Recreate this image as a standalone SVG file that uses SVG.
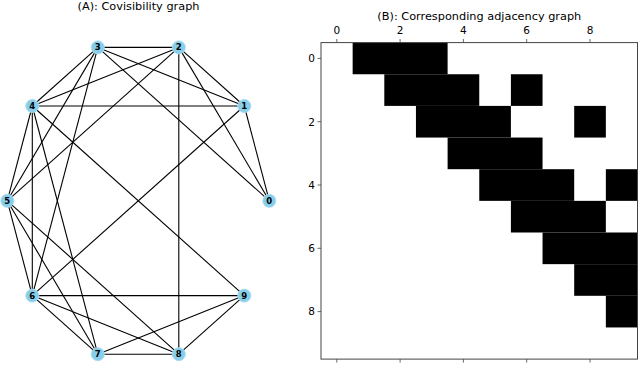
<svg xmlns="http://www.w3.org/2000/svg" width="640" height="365" viewBox="0 0 640 365">
<style>
.tl{font-family:"DejaVu Sans",sans-serif;font-size:10.5px;fill:#000;text-anchor:middle}
.ti{font-family:"DejaVu Sans",sans-serif;font-size:11.3px;fill:#000;text-anchor:middle}
.tr{font-family:"DejaVu Sans",sans-serif;font-size:10.5px;fill:#000;text-anchor:end}
.e line{stroke:#000;stroke-width:1.1}
.n circle{fill:#87CEEB;stroke:#a9dcf0;stroke-width:1}
.n text{font-family:"DejaVu Sans",sans-serif;font-size:8.5px;font-weight:bold;fill:#000;text-anchor:middle}
.tk{stroke:#444;stroke-width:0.8}
</style>
<rect width="640" height="365" fill="#fff"/>
<text class="ti" x="138.5" y="9.5">(A): Covisibility graph</text>
<g id="edges" class="e">
<line x1="269.3" y1="200.8" x2="244.3" y2="106.0"/>
<line x1="269.3" y1="200.8" x2="178.8" y2="47.4"/>
<line x1="269.3" y1="200.8" x2="97.8" y2="47.4"/>
<line x1="244.3" y1="106.0" x2="178.8" y2="47.4"/>
<line x1="244.3" y1="106.0" x2="97.8" y2="47.4"/>
<line x1="244.3" y1="106.0" x2="32.3" y2="106.0"/>
<line x1="244.3" y1="106.0" x2="32.3" y2="295.6"/>
<line x1="178.8" y1="47.4" x2="97.8" y2="47.4"/>
<line x1="178.8" y1="47.4" x2="32.3" y2="106.0"/>
<line x1="178.8" y1="47.4" x2="7.3" y2="200.8"/>
<line x1="178.8" y1="47.4" x2="178.8" y2="354.2"/>
<line x1="97.8" y1="47.4" x2="32.3" y2="106.0"/>
<line x1="97.8" y1="47.4" x2="7.3" y2="200.8"/>
<line x1="97.8" y1="47.4" x2="32.3" y2="295.6"/>
<line x1="32.3" y1="106.0" x2="7.3" y2="200.8"/>
<line x1="32.3" y1="106.0" x2="32.3" y2="295.6"/>
<line x1="32.3" y1="106.0" x2="97.8" y2="354.2"/>
<line x1="32.3" y1="106.0" x2="244.3" y2="295.6"/>
<line x1="7.3" y1="200.8" x2="32.3" y2="295.6"/>
<line x1="7.3" y1="200.8" x2="97.8" y2="354.2"/>
<line x1="7.3" y1="200.8" x2="178.8" y2="354.2"/>
<line x1="32.3" y1="295.6" x2="97.8" y2="354.2"/>
<line x1="32.3" y1="295.6" x2="178.8" y2="354.2"/>
<line x1="32.3" y1="295.6" x2="244.3" y2="295.6"/>
<line x1="97.8" y1="354.2" x2="178.8" y2="354.2"/>
<line x1="97.8" y1="354.2" x2="244.3" y2="295.6"/>
<line x1="178.8" y1="354.2" x2="244.3" y2="295.6"/>
</g>
<g id="node0" class="n"><circle cx="269.3" cy="200.8" r="6.5"/><text x="269.3" y="203.8">0</text></g>
<g id="node1" class="n"><circle cx="244.3" cy="106.0" r="6.5"/><text x="244.3" y="109.0">1</text></g>
<g id="node2" class="n"><circle cx="178.8" cy="47.4" r="6.5"/><text x="178.8" y="50.4">2</text></g>
<g id="node3" class="n"><circle cx="97.8" cy="47.4" r="6.5"/><text x="97.8" y="50.4">3</text></g>
<g id="node4" class="n"><circle cx="32.3" cy="106.0" r="6.5"/><text x="32.3" y="109.0">4</text></g>
<g id="node5" class="n"><circle cx="7.3" cy="200.8" r="6.5"/><text x="7.3" y="203.8">5</text></g>
<g id="node6" class="n"><circle cx="32.3" cy="295.6" r="6.5"/><text x="32.3" y="298.6">6</text></g>
<g id="node7" class="n"><circle cx="97.8" cy="354.2" r="6.5"/><text x="97.8" y="357.2">7</text></g>
<g id="node8" class="n"><circle cx="178.8" cy="354.2" r="6.5"/><text x="178.8" y="357.2">8</text></g>
<g id="node9" class="n"><circle cx="244.3" cy="295.6" r="6.5"/><text x="244.3" y="298.6">9</text></g>
<g id="matrix">
<text class="ti" x="479.3" y="19.5">(B): Corresponding adjacency graph</text>
<g transform="translate(321,42.6) scale(31.65)" fill="#000">
<rect x="1" y="0" width="3" height="1"/>
<rect x="2" y="1" width="3" height="1"/>
<rect x="6" y="1" width="1" height="1"/>
<rect x="3" y="2" width="3" height="1"/>
<rect x="8" y="2" width="1" height="1"/>
<rect x="4" y="3" width="3" height="1"/>
<rect x="5" y="4" width="3" height="1"/>
<rect x="9" y="4" width="1" height="1"/>
<rect x="6" y="5" width="3" height="1"/>
<rect x="7" y="6" width="3" height="1"/>
<rect x="8" y="7" width="2" height="1"/>
<rect x="9" y="8" width="1" height="1"/>
</g>
<rect x="321" y="42.6" width="316.5" height="316.5" fill="none" stroke="#444" stroke-width="1"/>
<g class="tk">
<line x1="336.8" y1="42.6" x2="336.8" y2="39"/>
<line x1="400.1" y1="42.6" x2="400.1" y2="39"/>
<line x1="463.4" y1="42.6" x2="463.4" y2="39"/>
<line x1="526.7" y1="42.6" x2="526.7" y2="39"/>
<line x1="590.0" y1="42.6" x2="590.0" y2="39"/>
<line x1="336.8" y1="359.1" x2="336.8" y2="362.6"/>
<line x1="400.1" y1="359.1" x2="400.1" y2="362.6"/>
<line x1="463.4" y1="359.1" x2="463.4" y2="362.6"/>
<line x1="526.7" y1="359.1" x2="526.7" y2="362.6"/>
<line x1="590.0" y1="359.1" x2="590.0" y2="362.6"/>
<line x1="321" y1="58.4" x2="317.5" y2="58.4"/>
<line x1="321" y1="121.7" x2="317.5" y2="121.7"/>
<line x1="321" y1="185.0" x2="317.5" y2="185.0"/>
<line x1="321" y1="248.3" x2="317.5" y2="248.3"/>
<line x1="321" y1="311.6" x2="317.5" y2="311.6"/>
</g>
<text class="tl" x="336.8" y="34">0</text>
<text class="tl" x="400.1" y="34">2</text>
<text class="tl" x="463.4" y="34">4</text>
<text class="tl" x="526.7" y="34">6</text>
<text class="tl" x="590.0" y="34">8</text>
<text class="tr" x="315" y="62.2">0</text>
<text class="tr" x="315" y="125.5">2</text>
<text class="tr" x="315" y="188.8">4</text>
<text class="tr" x="315" y="252.1">6</text>
<text class="tr" x="315" y="315.4">8</text>
</g>
</svg>
